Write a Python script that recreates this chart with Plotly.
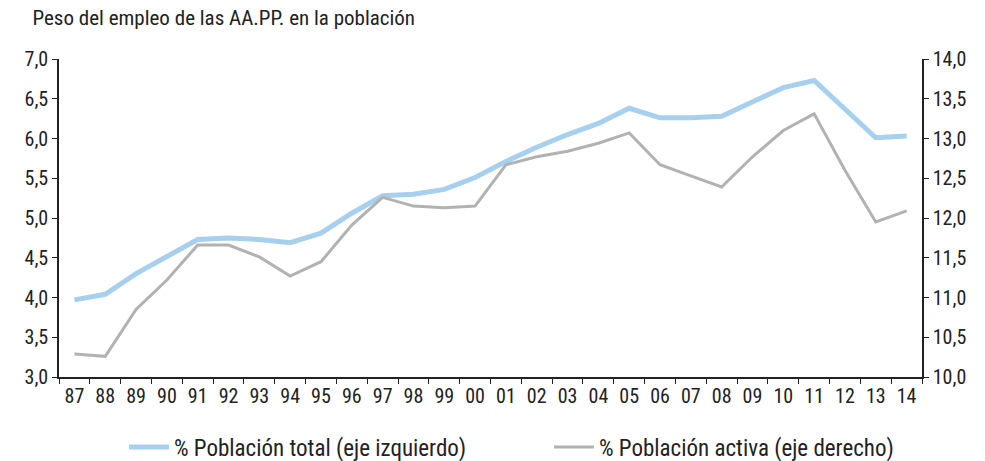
import plotly.graph_objects as go

years = ["87","88","89","90","91","92","93","94","95","96","97","98","99","00",
         "01","02","03","04","05","06","07","08","09","10","11","12","13","14"]
pob_total = [3.97,4.04,4.30,4.52,4.73,4.75,4.73,4.69,4.81,5.06,5.28,5.30,5.36,5.51,
             5.71,5.89,6.05,6.19,6.38,6.26,6.26,6.28,6.46,6.64,6.73,6.38,6.01,6.03]
pob_activa = [10.29,10.26,10.85,11.22,11.66,11.66,11.51,11.27,11.45,11.91,12.26,12.15,12.13,12.15,
              12.67,12.77,12.84,12.94,13.07,12.67,12.53,12.39,12.77,13.10,13.31,12.60,11.95,12.09]

left_ticks = [3.0,3.5,4.0,4.5,5.0,5.5,6.0,6.5,7.0]
right_ticks = [10.0,10.5,11.0,11.5,12.0,12.5,13.0,13.5,14.0]

FONT = "Liberation Sans Narrow, Roboto Condensed, Noto Sans, sans-serif"

fig = go.Figure()
fig.add_trace(go.Scatter(x=years, y=pob_total, mode="lines",
                         name="% Población total (eje izquierdo)",
                         line=dict(color="#a7cfee", width=5), yaxis="y"))
fig.add_trace(go.Scatter(x=years, y=pob_activa, mode="lines",
                         name="% Población activa (eje derecho)",
                         line=dict(color="#b2b2b2", width=3), yaxis="y2"))

axis_common = dict(showgrid=False, zeroline=False, showline=True, linecolor="#222",
                   linewidth=1.5, ticks="outside", ticklen=5, tickcolor="#222",
                   tickfont=dict(family=FONT, size=20, color="#222"), automargin=False)

fig.update_layout(
    width=985, height=461,
    margin=dict(l=59, r=63, t=59, b=84, autoexpand=False),
    paper_bgcolor="white", plot_bgcolor="white",
    separators=",.",
    font=dict(family=FONT, color="#222"),
    title=dict(text="Peso del empleo de las AA.PP. en la población",
               xref="container", yref="container",
               x=0.033, xanchor="left", y=1 - 18/461, yanchor="middle",
               font=dict(family=FONT, size=21, color="#222")),
    xaxis=dict(type="category", tickson="boundaries", range=[-0.5, 27.5],
               **axis_common),
    yaxis=dict(range=[3, 7], tickvals=left_ticks, tickformat=".1f", **axis_common),
    yaxis2=dict(range=[10, 14], tickvals=right_ticks, tickformat=".1f",
                overlaying="y", side="right", **axis_common),
    legend=dict(orientation="h", xref="container", yref="container",
                x=124/985, xanchor="left", y=14/461, yanchor="middle",
                font=dict(family=FONT, size=23, color="#222"),
                itemwidth=40, traceorder="normal", entrywidth=370,
                bgcolor="rgba(0,0,0,0)"),
    showlegend=True,
)

fig.write_html("out.html", post_script="document.body.style.margin='0';",
               config={"displayModeBar": False})
